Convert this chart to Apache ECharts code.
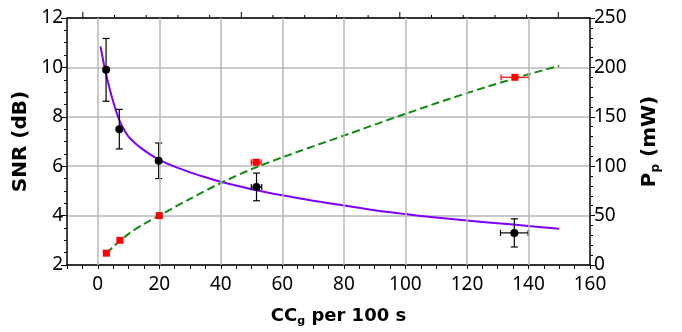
<!DOCTYPE html>
<html><head><meta charset="utf-8">
<script src="https://cdn.jsdelivr.net/npm/echarts@6/dist/echarts.min.js"></script>
<style>html,body{margin:0;padding:0;background:#fff}#c{width:682px;height:332px}</style>
</head><body><div id="c"></div>
<script>
// measured SNR points (black) with error bars
const snrX = [2.7, 7.0, 19.8, 51.6, 135.4];
const snrY = [9.9, 7.5, 6.22, 5.16, 3.3];
const snrYErr = [1.27, 0.8, 0.72, 0.56, 0.57];
const snrXErr = [0, 0, 0, 1.7, 4.5];
// measured pump power points (red)
const ppX = [2.8, 7.2, 20, 51.5, 135.6];
const ppY = [12, 25, 50, 104, 190];
const ppXErr = [0, 0, 0, 1.6, 4.5];
// purple fit curve (SNR)
const fitSnrX = [0.9, 1.5, 2, 2.5, 3, 4, 5, 6, 7, 8, 10, 12, 14, 17, 20, 25, 30, 35, 40, 50, 60, 70, 80, 90, 100, 110, 120, 130, 140, 150];
const fitSnrY = [10.85, 10.45, 10.13, 9.84, 9.57, 9.07, 8.62, 8.22, 7.88, 7.6, 7.2, 6.95, 6.74, 6.48, 6.26, 5.98, 5.75, 5.55, 5.37, 5.07, 4.82, 4.6, 4.41, 4.22, 4.06, 3.92, 3.8, 3.69, 3.58, 3.47];
// green dashed fit curve (Pp)
const fitPpX = [2.8, 5, 7.5, 10, 15, 20, 30, 40, 50, 60, 80, 100, 120, 140, 150];
const fitPpY = [11.5, 18.5, 25, 31.5, 41.5, 50, 67, 83, 97, 109, 131, 153, 174, 193, 201.5];
// axes
const xGridValues = [0, 20, 40, 60, 80, 100, 120, 140];
const xLabelValues = [0, 20, 40, 60, 80, 100, 120, 140, 160];
// top frame axis (its own scale, -0.5 .. 16) and its tick positions
const topMin = -0.5, topMax = 16;
const topTicks = [0, 1, 2, 3, 4, 5, 6, 7, 8, 9, 10, 11, 12, 13, 14, 15];
// annotations
const noteText = ['(a)', '(b)'];
const noteX = [11.9, 146];
const noteY = [11.04, 8.59];

const X_MIN = -10, X_MAX = 160, Y_MAX = 12;
const FONT = "'Noto Sans', 'DejaVu Sans', sans-serif";
const BFONT = "'DejaVu Sans', sans-serif";
const zip = (a, b) => a.map((v, i) => [v, b[i]]);
// map a top-frame value onto the bottom axis scale (both span the full plot width)
const topToX = v => X_MIN + (v - topMin) * (X_MAX - X_MIN) / (topMax - topMin);

function errItem(capV, capH, color) {
  return function (params, api) {
    const x = api.value(0), y = api.value(1), ey = api.value(2), ex = api.value(3);
    const ch = [];
    const st = { stroke: color, lineWidth: 1.2 };
    if (ey > 0) {
      const t = api.coord([x, y + ey]), b = api.coord([x, y - ey]);
      ch.push({ type: 'line', shape: { x1: t[0], y1: t[1], x2: b[0], y2: b[1] }, style: st });
      ch.push({ type: 'line', shape: { x1: t[0] - capV, y1: t[1], x2: t[0] + capV, y2: t[1] }, style: st });
      ch.push({ type: 'line', shape: { x1: b[0] - capV, y1: b[1], x2: b[0] + capV, y2: b[1] }, style: st });
    }
    if (ex > 0) {
      const l = api.coord([x - ex, y]), r = api.coord([x + ex, y]);
      ch.push({ type: 'line', shape: { x1: l[0], y1: l[1], x2: r[0], y2: r[1] }, style: st });
      ch.push({ type: 'line', shape: { x1: l[0], y1: l[1] - capH, x2: l[0], y2: l[1] + capH }, style: st });
      ch.push({ type: 'line', shape: { x1: r[0], y1: r[1] - capH, x2: r[0], y2: r[1] + capH }, style: st });
    }
    return { type: 'group', children: ch };
  };
}

// top frame ticks: x is given on the bottom axis scale, y at the top of the plot
function topTickItem(params, api) {
  const p = api.coord([api.value(0), api.value(1)]);
  const len = api.value(2);
  return { type: 'group', children: [
    { type: 'line', shape: { x1: p[0], y1: p[1], x2: p[0], y2: p[1] - len },
      style: { stroke: '#000', lineWidth: 1 } } ] };
}

const chart = echarts.init(document.getElementById('c'), null, { renderer: 'canvas' });
const axisLine = { show: true, onZero: false, lineStyle: { color: '#000', width: 1.5 } };
const tickStyle = { color: '#000', width: 1 };
chart.setOption({
  animation: false,
  backgroundColor: '#fff',
  grid: { left: 67, right: 92, top: 18, bottom: 65 },
  xAxis: [
    {
      type: 'value', position: 'bottom', min: X_MIN, max: X_MAX, interval: 5,
      axisLine: axisLine,
      axisTick: { show: true, inside: false, length: 4, lineStyle: tickStyle },
      axisLabel: { color: '#000', fontSize: 19, fontFamily: FONT, margin: 10,
        formatter: v => xLabelValues.indexOf(v) >= 0 ? String(v) : '' },
      splitLine: { show: false },
      name: '{b|CC}{s|g}{b| per 100 s}', nameLocation: 'middle', nameGap: 40,
      nameTextStyle: { padding: [0, 0, 0, 20], rich: {
        b: { fontSize: 18, fontWeight: 'bold', fontFamily: BFONT, color: '#000', lineHeight: 22 },
        s: { fontSize: 11, fontWeight: 'bold', fontFamily: BFONT, color: '#000', lineHeight: 12, padding: [10, 0, 0, 0], verticalAlign: 'bottom' }
      } }
    },
    {
      type: 'value', position: 'top', min: topMin, max: topMax,
      axisLine: axisLine,
      axisTick: { show: false },
      axisLabel: { show: true, formatter: () => '' },
      splitLine: { show: false }
    }
  ],
  yAxis: [
    {
      type: 'value', position: 'left', min: 2, max: Y_MAX, interval: 2,
      axisLine: axisLine,
      axisTick: { show: true, length: 6, lineStyle: tickStyle },
      minorTick: { show: true, splitNumber: 4, length: 3, lineStyle: tickStyle },
      axisLabel: { color: '#000', fontSize: 19, fontFamily: FONT, margin: 4 },
      splitLine: { show: true, lineStyle: { color: '#b8b8b8', width: 1.5 } },
      name: 'SNR (dB)', nameLocation: 'middle', nameGap: 33, nameRotate: 90,
      nameTextStyle: { fontSize: 20, fontWeight: 'bold', fontFamily: BFONT, color: '#000' }
    },
    {
      type: 'value', position: 'right', min: 0, max: 250, interval: 50,
      axisLine: axisLine,
      axisTick: { show: true, length: 5, lineStyle: tickStyle },
      minorTick: { show: true, splitNumber: 5, length: 3, lineStyle: tickStyle },
      axisLabel: { color: '#000', fontSize: 19, fontFamily: FONT, margin: 4 },
      splitLine: { show: false },
      name: '{b|P}{s|p}{b| (mW)}', nameLocation: 'middle', nameGap: 48, nameRotate: 90,
      nameTextStyle: { rich: {
        b: { fontSize: 20, fontWeight: 'bold', fontFamily: BFONT, color: '#000', lineHeight: 24 },
        s: { fontSize: 12, fontWeight: 'bold', fontFamily: BFONT, color: '#000', lineHeight: 13, padding: [11, 0, 0, 0], verticalAlign: 'bottom' }
      } }
    }
  ],
  series: [
    {
      type: 'line', xAxisIndex: 0, yAxisIndex: 0, data: [], z: 1, silent: true,
      markLine: { silent: true, symbol: 'none', label: { show: false },
        lineStyle: { color: '#b8b8b8', width: 1.5, type: 'solid' },
        data: xGridValues.map(v => ({ xAxis: v })) }
    },
    {
      type: 'line', xAxisIndex: 0, yAxisIndex: 0, data: zip(fitSnrX, fitSnrY),
      showSymbol: false, smooth: 0.3, lineStyle: { color: '#7f00ff', width: 2 }, z: 3
    },
    {
      type: 'line', xAxisIndex: 0, yAxisIndex: 1, data: zip(fitPpX, fitPpY),
      showSymbol: false, smooth: 0.3, lineStyle: { color: '#118a11', width: 2, type: [8, 4] }, z: 3
    },
    {
      type: 'custom', xAxisIndex: 0, yAxisIndex: 0, renderItem: errItem(3.5, 3, '#000'),
      encode: { x: 0, y: 1 }, data: snrX.map((v, i) => [v, snrY[i], snrYErr[i], snrXErr[i]]), z: 4
    },
    {
      type: 'scatter', xAxisIndex: 0, yAxisIndex: 0, data: zip(snrX, snrY),
      symbol: 'circle', symbolSize: 8, itemStyle: { color: '#000', opacity: 1 }, z: 5
    },
    {
      type: 'custom', xAxisIndex: 0, yAxisIndex: 1, renderItem: errItem(3, 3, '#ff0000'),
      encode: { x: 0, y: 1 }, data: ppX.map((v, i) => [v, ppY[i], 0, ppXErr[i]]), z: 4
    },
    {
      type: 'scatter', xAxisIndex: 0, yAxisIndex: 1, data: zip(ppX, ppY),
      symbol: 'rect', symbolSize: 7, itemStyle: { color: '#ff0000', opacity: 1 }, z: 5
    },
    {
      type: 'scatter', xAxisIndex: 0, yAxisIndex: 0, symbolSize: 1, itemStyle: { opacity: 0 },
      data: noteText.map((t, i) => ({ name: t, value: [noteX[i], noteY[i]] })),
      label: { show: true, position: 'inside', formatter: p => p.name, color: '#000', fontSize: 19, fontFamily: FONT }
    },
    {
      // ticks of the top frame axis
      type: 'custom', xAxisIndex: 0, yAxisIndex: 0, silent: true, clip: false, z: 10,
      renderItem: topTickItem, encode: { x: 0, y: 1 },
      data: topTicks.map(v => [topToX(v), Y_MAX, v % 5 === 0 ? 6 : 3])
    }
  ]
});
</script></body></html>
